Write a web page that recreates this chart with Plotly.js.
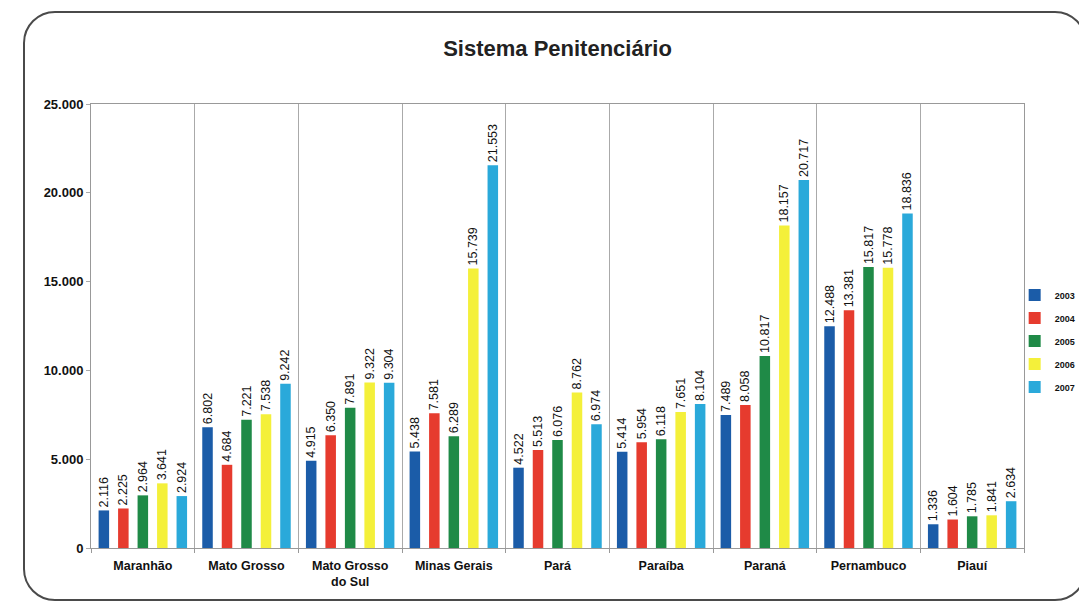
<!DOCTYPE html>
<html>
<head>
<meta charset="utf-8">
<script src="https://cdn.plot.ly/plotly-3.0.1.min.js"></script>
<style>
  html, body { margin:0; padding:0; background:#fff; width:1079px; height:602px; overflow:hidden; }
  #frame { position:absolute; left:23px; top:11px; width:1060px; height:586px; border:2px solid #4a4a4a; border-radius:32px; }
  #chart { position:absolute; left:0; top:0; width:1079px; height:602px; }
</style>
</head>
<body>
<div id="frame"></div>
<div id="chart"></div>
<script>
const categories = ["Maranhão", "Mato Grosso", "Mato Grosso<br>do Sul", "Minas Gerais", "Pará", "Paraíba", "Paraná", "Pernambuco", "Piauí"];
const years = ["2003", "2004", "2005", "2006", "2007"];
const v2003 = [2116, 6802, 4915, 5438, 4522, 5414, 7489, 12488, 1336];
const v2004 = [2225, 4684, 6350, 7581, 5513, 5954, 8058, 13381, 1604];
const v2005 = [2964, 7221, 7891, 6289, 6076, 6118, 10817, 15817, 1785];
const v2006 = [3641, 7538, 9322, 15739, 8762, 7651, 18157, 15778, 1841];
const v2007 = [2924, 9242, 9304, 21553, 6974, 8104, 20717, 18836, 2634];
const yTicks = [0, 5000, 10000, 15000, 20000, 25000];

const series = [v2003, v2004, v2005, v2006, v2007];
const colors = ["#1b5ca8", "#e63b2e", "#1f8a47", "#f4f03a", "#2aa9da"];

const traces = series.map((vals, i) => ({
  type: "bar",
  name: years[i],
  legendgroup: years[i],
  x: categories,
  y: vals,
  marker: { color: colors[i] },
  texttemplate: "%{y:,}",
  textposition: "outside",
  textangle: -90,
  constraintext: "none",
  cliponaxis: false,
  textfont: { family: "Liberation Sans, Arial, sans-serif", size: 12.5, color: "#111" },
  hoverinfo: "x+y+name"
}));

const layout = {
  width: 1079, height: 602,
  paper_bgcolor: "rgba(0,0,0,0)",
  plot_bgcolor: "#fff",
  separators: ",.",
  margin: { l: 91, r: 55, t: 104, b: 54, autoexpand: false },
  font: { family: "Liberation Sans, Arial, sans-serif", color: "#111" },
  title: {
    text: "<b>Sistema Penitenciário</b>",
    font: { size: 22, family: "Liberation Sans, Arial, sans-serif", color: "#222" },
    x: 0.5, xref: "paper", y: 1 - 48/602, yref: "container", yanchor: "middle"
  },
  barmode: "group",
  bargap: 0.06,
  bargroupgap: 0.46,
  xaxis: {
    type: "category",
    tickson: "boundaries",
    showgrid: true, gridcolor: "#aaa", gridwidth: 1,
    showline: true, linecolor: "#999", mirror: true,
    ticks: "outside", ticklen: 4, tickcolor: "#999",
    ticklabelstandoff: 6,
    tickfont: { size: 12.5, family: "Liberation Sans, Arial, sans-serif", color: "#111", weight: "bold" }
  },
  yaxis: {
    range: [0, 25000],
    tickvals: yTicks,
    tickformat: ",",
    showgrid: false, zeroline: false,
    showline: true, linecolor: "#999", mirror: true,
    ticks: "outside", ticklen: 4, tickcolor: "#aaa",
    tickfont: { size: 13, family: "Liberation Sans, Arial, sans-serif", color: "#111", weight: "bold" }
  },
  showlegend: true,
  legend: {
    x: 0.99, xanchor: "left", y: 0.466, yanchor: "middle",
    bgcolor: "rgba(0,0,0,0)", borderwidth: 0,
    tracegroupgap: 4,
    itemwidth: 30,
    font: { size: 9, family: "Liberation Sans, Arial, sans-serif", color: "#111", weight: "bold" }
  }
};

Plotly.newPlot("chart", traces, layout, { displayModeBar: false, staticPlot: true });
</script>
</body>
</html>
